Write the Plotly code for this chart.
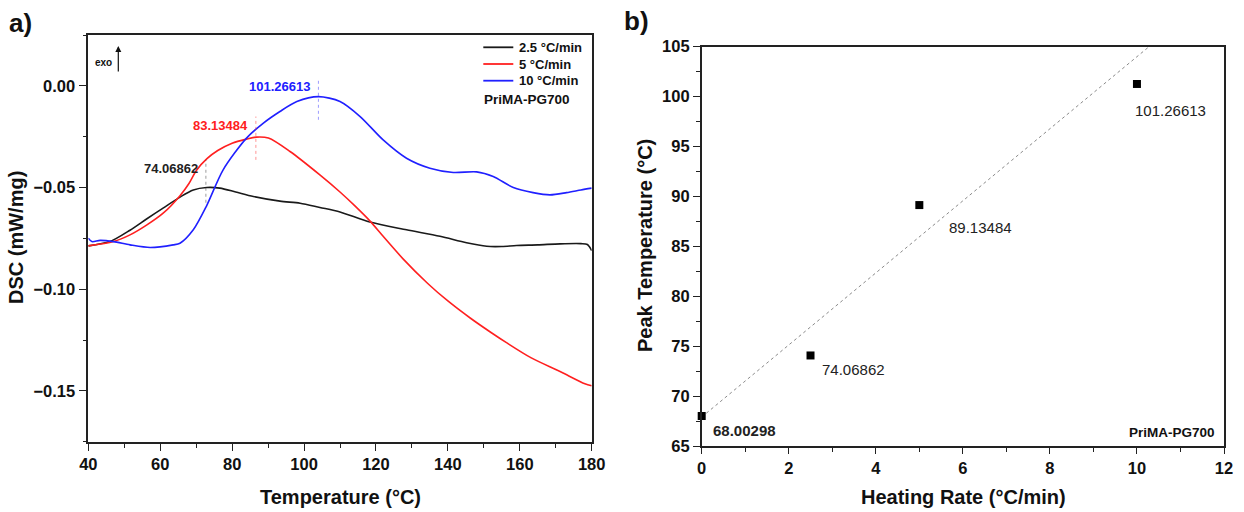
import numpy as np
import plotly.graph_objects as go

# ---------------- data: panel a (DSC curves) ----------------
temp_25 = [40, 46.0, 51.6, 56.2, 60.9, 65.5, 69.2, 72.9, 76.6, 81.0, 85.9, 93.3, 98.9,
           104.4, 110.0, 118.3, 128.5, 137.8, 145.2, 150.8, 155.0, 159.1, 165.0, 171.2,
           177.0, 178.8, 180]
dsc_25 = [-0.0787, -0.0766, -0.0710, -0.0655, -0.0600, -0.0547, -0.0512, -0.0500, -0.0503,
          -0.0522, -0.0544, -0.0567, -0.0577, -0.0598, -0.0620, -0.0670, -0.0708, -0.0740,
          -0.0772, -0.0789, -0.0790, -0.0785, -0.0782, -0.0777, -0.0776, -0.0780, -0.0810]

temp_5 = [40, 47.0, 51.6, 56.2, 60.9, 65.5, 68.0, 70.1, 73.0, 76.0, 80.0, 84.0, 86.8, 90.1,
          96.1, 104.4, 110.0, 114.0, 118.3, 122.0, 127.6, 134.4, 140.0, 146.3, 152.0, 156.3,
          163.2, 171.2, 178.1, 180]
dsc_5 = [-0.0787, -0.0766, -0.0733, -0.0685, -0.0625, -0.0540, -0.0480, -0.0415, -0.0358,
         -0.0318, -0.0282, -0.0262, -0.0252, -0.0257, -0.0323, -0.0438, -0.0522, -0.0588,
         -0.0664, -0.0740, -0.0852, -0.0972, -0.1058, -0.1143, -0.1213, -0.1263, -0.1338,
         -0.1405, -0.1465, -0.1475]

temp_10 = [40, 41.0, 43.3, 47.0, 51.6, 57.2, 63.6, 65.5, 69.2, 72.9, 77.5, 84.0, 88.7, 93.3,
           98.0, 104.0, 110.0, 115.6, 122.0, 128.5, 135.0, 141.5, 148.0, 152.6, 158.2, 163.7,
           168.4, 173.0, 177.0, 180]
dsc_10 = [-0.0749, -0.0766, -0.0760, -0.0766, -0.0782, -0.0795, -0.0782, -0.0774, -0.0708,
          -0.0590, -0.0413, -0.0257, -0.0183, -0.0126, -0.0077, -0.0053, -0.0077, -0.0151,
          -0.0266, -0.0356, -0.0405, -0.0426, -0.0423, -0.0446, -0.0500, -0.0525, -0.0536,
          -0.0525, -0.0512, -0.0503]

series_names = ["2.5 °C/min", "5 °C/min", "10 °C/min"]
series_colors = ["#1a1a1a", "#ff2020", "#2020ff"]

# peak marker lines (position on axis and vertical span) and their labels
peak_T = [72.7, 86.6, 104.0]
peak_top = [-0.0364, -0.0151, 0.0039]
peak_bottom = [-0.0575, -0.0364, -0.0167]
peak_labels = ["74.06862", "83.13484", "101.26613"]
peak_line_colors = ["rgba(60,60,60,0.5)", "rgba(255,60,60,0.55)", "rgba(60,60,255,0.5)"]
peak_text_colors = ["#222222", "#ff2020", "#2020ff"]

# ---------------- data: panel b ----------------
rate = [0, 2.5, 5, 10]
peak_temp = [68.00298, 74.06862, 89.13484, 101.26613]
rate_labels = ["68.00298", "74.06862", "89.13484", "101.26613"]
trend_intercept = 67.9
trend_slope = 3.61

FONT = "Liberation Sans, Arial, sans-serif"
W, H = 1244, 512
AX = "#222222"


def px(x):
    return x / W


def py(y):
    return 1 - y / H


fig = go.Figure()

for t, d, n, c in zip([temp_25, temp_5, temp_10], [dsc_25, dsc_5, dsc_10], series_names, series_colors):
    fig.add_trace(go.Scatter(x=t, y=d, mode="lines", name=n,
                             line=dict(color=c, width=1.6, shape="spline", smoothing=0.8),
                             xaxis="x", yaxis="y", showlegend=False))

for T, top, bot, lc in zip(peak_T, peak_top, peak_bottom, peak_line_colors):
    fig.add_trace(go.Scatter(x=[T, T], y=[bot, top], mode="lines", line=dict(color=lc, width=1, dash="dot"),
                             xaxis="x", yaxis="y", showlegend=False, hoverinfo="skip"))

# panel b
x_end = (105 - trend_intercept) / trend_slope
fx = np.array([0.0, x_end])
fig.add_trace(go.Scatter(x=fx, y=trend_intercept + trend_slope * fx, mode="lines",
                         line=dict(color="#8a8a8a", width=1, dash="dot"),
                         xaxis="x2", yaxis="y2", showlegend=False))
fig.add_trace(go.Scatter(x=rate, y=peak_temp, mode="markers",
                         marker=dict(symbol="square", size=8, color="black"),
                         xaxis="x2", yaxis="y2", showlegend=False, cliponaxis=False))

annotations = []
shapes = []
for T, top, lab, col in zip(peak_T, peak_top, peak_labels, peak_text_colors):
    annotations.append(dict(x=T, y=top, xref="x", yref="y", text="<b>%s</b>" % lab, showarrow=False,
                            xanchor="right", yanchor="middle", xshift=-6, yshift=-9,
                            font=dict(family=FONT, size=13, color=col)))

label_shifts = [(9, -14), (9, -14), (28, -22), (-4, -27)]
for i, (xv, yv, lab) in enumerate(zip(rate, peak_temp, rate_labels)):
    t = "<b>%s</b>" % lab if i == 0 else lab
    annotations.append(dict(x=xv, y=yv, xref="x2", yref="y2", text=t, showarrow=False,
                            xanchor="left", yanchor="middle", xshift=label_shifts[i][0], yshift=label_shifts[i][1],
                            font=dict(family=FONT, size=15, color="#222222")))


def txt(x, y, s, size, angle=0, xanchor="center", color="#111111"):
    annotations.append(dict(x=px(x), y=py(y), xref="paper", yref="paper", text=s, showarrow=False,
                            textangle=angle, xanchor=xanchor, yanchor="middle",
                            font=dict(family=FONT, size=size, color=color)))


txt(20.5, 23, "<b>a)</b>", 26)
txt(636, 21, "<b>b)</b>", 26)
txt(16, 238, "<b>DSC (mW/mg)</b>", 20, angle=-90)
txt(340, 497, "<b>Temperature (°C)</b>", 20)
txt(645, 246, "<b>Peak Temperature (°C)</b>", 20, angle=-90)
txt(963, 497, "<b>Heating Rate (°C/min)</b>", 20)
txt(103, 62, "<b>exo</b>", 10)
txt(482, 99, "<b>PriMA-PG700</b>", 13.5, xanchor="left")
txt(1127, 432, "<b>PriMA-PG700</b>", 13.5, xanchor="left")

# manual legend (line sample + text) for the three DSC series
legend_rows = [47.3, 64.0, 80.7]
for rowy, n, c in zip(legend_rows, series_names, series_colors):
    shapes.append(dict(type="line", xref="paper", yref="paper", x0=px(483.3), x1=px(513.3),
                       y0=py(rowy), y1=py(rowy), line=dict(color=c, width=1.8)))
    txt(516.5, rowy, "<b>%s</b>" % n, 13, xanchor="left")

annotations.append(dict(x=px(118.3), y=py(46), xref="paper", yref="paper", ax=0, ay=27, text="",
                        showarrow=True, arrowhead=2, arrowsize=1, arrowwidth=1.2, arrowcolor="#111111"))

tickfont = dict(family=FONT, size=16.5, color="#111111", weight="bold")

common = dict(showline=True, linecolor=AX, linewidth=1.6, mirror=True, ticks="outside", tickcolor=AX,
              tickwidth=1.4, showgrid=False, zeroline=False, automargin=False, tickfont=tickfont)

fig.update_layout(
    width=W, height=H, margin=dict(l=0, r=0, t=0, b=0),
    paper_bgcolor="white", plot_bgcolor="white",
    xaxis=dict(domain=[px(88.3), px(591.7)], range=[40, 180], dtick=20, tick0=40, ticklen=7,
               minor=dict(dtick=10, ticklen=4, tickcolor=AX, ticks="outside"),
               anchor="y", **common),
    yaxis=dict(domain=[py(441.7), py(35)], range=[-0.175, 0.025], dtick=0.05, tick0=0, ticklen=8,
               tickformat=".2f", minor=dict(dtick=0.025, ticklen=4, tickcolor=AX, ticks="outside"),
               anchor="x", **common),
    xaxis2=dict(domain=[px(701.7), px(1224)], range=[0, 12], dtick=2, tick0=0, ticklen=6,
                minor=dict(dtick=1, ticklen=4, tickcolor=AX, ticks="outside"),
                anchor="y2", **common),
    yaxis2=dict(domain=[py(446), py(46.7)], range=[65, 105], dtick=5, tick0=65, ticklen=7,
                minor=dict(dtick=2.5, ticklen=4, tickcolor=AX, ticks="outside"),
                anchor="x2", **common),
    annotations=annotations,
    shapes=shapes,
    showlegend=False,
)

fig.write_html("out.html")
